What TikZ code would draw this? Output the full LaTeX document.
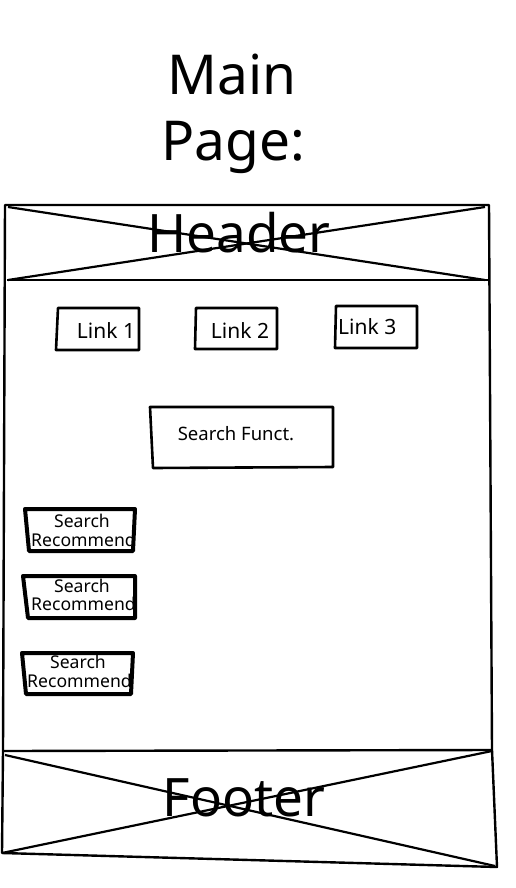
\documentclass[tikz,border=0pt]{standalone}
\usepackage{fontspec}
\setmainfont{Noto Sans}
\begin{document}
\begin{tikzpicture}[x=1pt,y=-1pt,line join=round]
\tikzset{
  frame/.style={draw=black,line width=2.4pt},
  xline/.style={draw=black,line width=2.2pt},
  linkbox/.style={draw=black,line width=2.6pt},
  recbox/.style={draw=black,line width=4pt},
  big/.style={inner sep=0pt,anchor=base,font=\fontsize{55}{60}\selectfont},
  hf/.style={inner sep=0pt,anchor=base,font=\fontsize{53}{60}\selectfont},
  lbl/.style={inner sep=0pt,anchor=base,font=\fontsize{21}{24}\selectfont},
  rec/.style={inner sep=0pt,anchor=base,font=\fontsize{17.6}{18}\selectfont}
}
\useasboundingbox (0,0) rectangle (515,888);
% title
\node[big] (t1) at (232,95) {Main};
\node[big] (t2) at (233,160) {Page:};
% header
\coordinate (htl) at (5,205);
\coordinate (htr) at (489,205);
\coordinate (hbl) at (7,280);
\coordinate (hbr) at (489,280);
\coordinate (ftl) at (3,751);
\coordinate (ftr) at (492,750);
\coordinate (fbl) at (2,853);
\coordinate (fbr) at (497,867);
\node[hf] (head) at (239,252) {Header};
\node[hf] (foot) at (244,816) {Footer};
\draw[frame] (htl) -- (htr) -- (ftr) -- (fbr) -- (fbl) -- (ftl) -- cycle;
\draw[frame] (hbl) -- (hbr);
\draw[frame] (ftl) -- (ftr);
\draw[xline] (8,207) -- (485,280);
\draw[xline] (8,280) -- (485,207);
\draw[xline] (5,755) -- (495,866);
\draw[xline] (2,853) -- (492,751);
% links
\node[lbl] (l1) at (106,338) {Link 1};
\node[lbl] (l2) at (240,338) {Link 2};
\node[lbl,anchor=base west] (l3) at (338,334) {Link 3};
\draw[linkbox] (58,308) -- (139,308) -- (139,350) -- (56,350) -- cycle;
\draw[linkbox] (196,308) -- (277,308) -- (277,349) -- (195,349) -- cycle;
\draw[linkbox] (336,306) -- (417,306) -- (417,348) -- (335,348) -- cycle;
% search
\node[font=\fontsize{18.5}{20}\selectfont,inner sep=0pt,anchor=base] (sf) at (236,440) {Search Funct.};
\draw[linkbox] (150,407) -- (333,407) -- (333,467) -- (153,468) -- cycle;
% recommendations
\begin{scope}
\clip (26,510) -- (133,510) -- (132,550) -- (29,550) -- cycle;
\node[rec] (r1a) at (82,527) {Search};
\node[rec,anchor=base west] (r1b) at (31,546) {Recommend};
\end{scope}
\draw[recbox] (25,509) -- (135,509) -- (133,551) -- (29,551) -- cycle;
\begin{scope}
\clip (24,577) -- (134,577) -- (134,617) -- (28,617) -- cycle;
\node[rec] (r2a) at (82,592) {Search};
\node[rec,anchor=base west] (r2b) at (31,610) {Recommend};
\end{scope}
\draw[recbox] (23,576) -- (135,576) -- (135,618) -- (28,618) -- cycle;
\begin{scope}
\clip (23,654) -- (132,654) -- (131,693) -- (26,693) -- cycle;
\node[rec] (r3a) at (78,668) {Search};
\node[rec,anchor=base west] (r3b) at (27,687) {Recommend};
\end{scope}
\draw[recbox] (22,653) -- (133,653) -- (131,694) -- (26,694) -- cycle;
\end{tikzpicture}
\end{document}
